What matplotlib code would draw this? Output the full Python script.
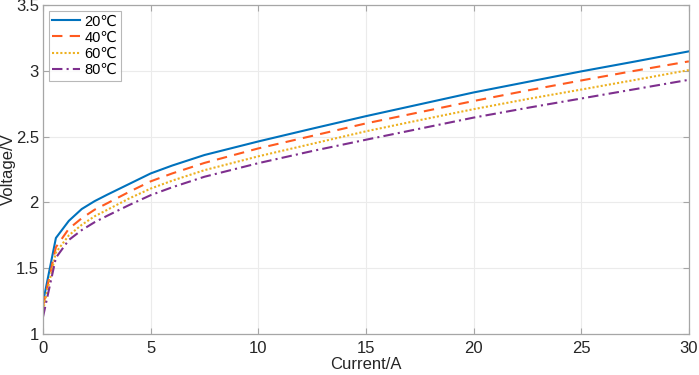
"""Voltage vs current curves at four temperatures (MATLAB-style figure)."""

import matplotlib
matplotlib.use("Agg")
import matplotlib.pyplot as plt
from matplotlib.ticker import FormatStrFormatter

plt.rcParams["font.family"] = ["Liberation Sans", "DejaVu Sans"]

# --------------------------------------------------------------------------
# data
# --------------------------------------------------------------------------
current = [0, 0.6, 1.2, 1.8, 2.4, 3, 4, 5, 6, 7.5, 10, 12.5, 15, 17.5, 20, 22.5, 25, 27.5, 30]

v_20 = [1.24, 1.73, 1.86, 1.95, 2.01, 2.06, 2.14, 2.22, 2.28, 2.36, 2.463, 2.56,
        2.655, 2.745, 2.835, 2.915, 2.995, 3.07, 3.147]
v_40 = [1.21, 1.66, 1.80, 1.88, 1.945, 1.995, 2.08, 2.16, 2.22, 2.30, 2.41, 2.505,
        2.60, 2.685, 2.77, 2.85, 2.926, 3.0, 3.071]
v_60 = [1.18, 1.62, 1.75, 1.83, 1.895, 1.945, 2.03, 2.105, 2.165, 2.245, 2.35, 2.445,
        2.54, 2.625, 2.708, 2.785, 2.857, 2.93, 3.005]
v_80 = [1.13, 1.58, 1.715, 1.79, 1.85, 1.90, 1.98, 2.055, 2.115, 2.195, 2.298, 2.39,
        2.476, 2.56, 2.644, 2.718, 2.789, 2.86, 2.931]

labels = ["20℃", "40℃", "60℃", "80℃"]

# --------------------------------------------------------------------------
# plot
# --------------------------------------------------------------------------
fig = plt.figure(figsize=(6.99, 3.75), dpi=100)
ax = fig.add_axes([0.0615, 0.109, 0.924, 0.878])

series = [v_20, v_40, v_60, v_80]
colors = ["#0072BD", "#FF5A1F", "#EDB120", "#7E2F8E"]
styles = ["-", (0, (5, 3.5)), (0, (1, 1)), (0, (5, 2, 1, 2))]
for v, c, ls, lab in zip(series, colors, styles, labels):
    ax.plot(current, v, linestyle=ls, color=c, linewidth=1.5, label=lab)

ax.set_xlim(0, 30)
ax.set_ylim(1, 3.5)
ax.set_xticks([0, 5, 10, 15, 20, 25, 30])
ax.set_yticks([1, 1.5, 2, 2.5, 3, 3.5])
ax.yaxis.set_major_formatter(FormatStrFormatter("%g"))
ax.grid(True, color="#EBEBEB", linewidth=0.8)
ax.set_axisbelow(True)

for sp in ax.spines.values():
    sp.set_color("#A6A6A6")
    sp.set_linewidth(0.9)
ax.tick_params(direction="in", top=True, right=True, length=4, width=0.8,
               color="#A6A6A6", labelsize=12, labelcolor="#262626", pad=3)
ax.tick_params(axis="x", pad=5)

ax.set_xlabel("Current/A", fontsize=12, color="#262626", labelpad=1)
ax.set_ylabel("Voltage/V", fontsize=12, color="#262626", labelpad=0)

leg = ax.legend(loc="upper left", fontsize=10.5, frameon=True, fancybox=False,
                edgecolor="#A6A6A6", handlelength=1.9, handletextpad=0.3,
                borderpad=0.25, labelspacing=0.15, borderaxespad=0.4)
leg.get_frame().set_linewidth(0.8)

fig.savefig("out.png", dpi=100)
